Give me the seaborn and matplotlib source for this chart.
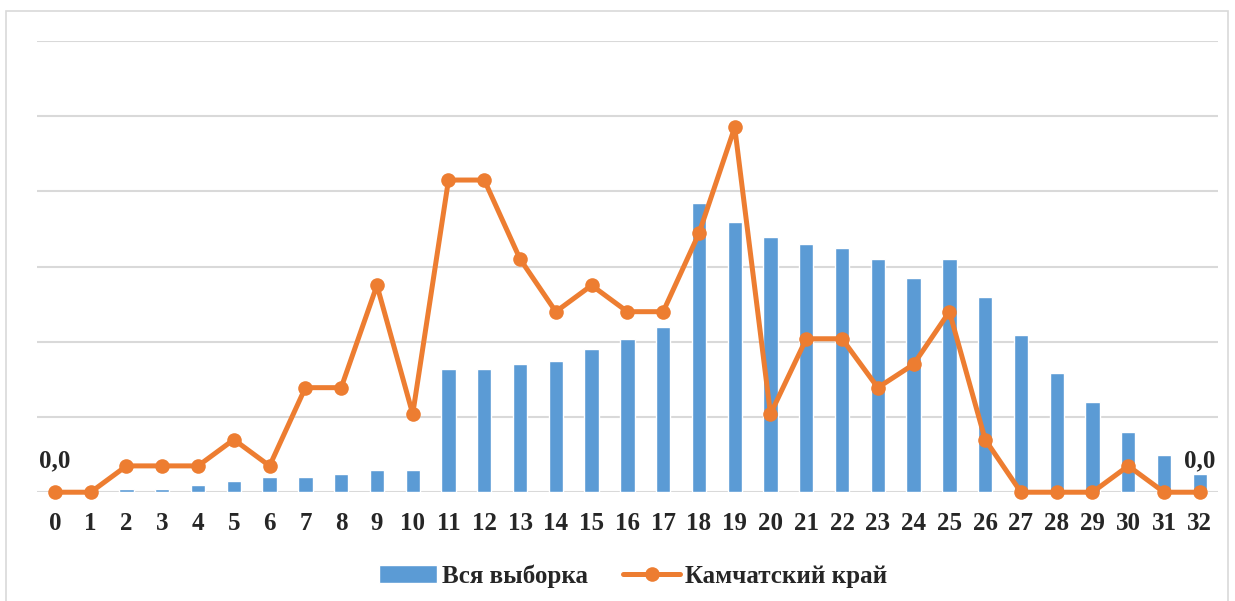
import numpy as np
import pandas as pd
import seaborn as sns
import matplotlib.pyplot as plt
from matplotlib.patches import Rectangle

# values (one grid step = 1 unit)
scores = list(range(33))
all_sample = [0, 0, 0.045, 0.045, 0.094, 0.148, 0.197, 0.197, 0.247, 0.30, 0.30,
              1.64, 1.64, 1.70, 1.75, 1.90, 2.04, 2.20, 3.84, 3.59, 3.39, 3.30,
              3.24, 3.10, 2.85, 3.10, 2.59, 2.09, 1.59, 1.20, 0.80, 0.49, 0.24]
kamchatka = [0, 0, 0.35, 0.35, 0.35, 0.70, 0.35, 1.39, 1.39, 2.75, 1.04,
             4.15, 4.15, 3.10, 2.40, 2.75, 2.40, 2.40, 3.44, 4.85, 1.04, 2.04,
             2.04, 1.39, 1.70, 2.40, 0.70, 0, 0, 0, 0.35, 0, 0]

df = pd.DataFrame({'score': scores, 'all': all_sample, 'kam': kamchatka})

sns.set_style('white')
plt.rcParams['font.family'] = ['Liberation Serif', 'DejaVu Serif']
plt.rcParams['font.weight'] = 'bold'

blue = '#5B9BD5'
orange = '#ED7D31'
grid = '#D9D9D9'

fig = plt.figure(figsize=(12.35, 6.01), dpi=100)
ax = fig.add_axes([0.030, 0.181, 0.956, 0.751])

sns.barplot(data=df, x='score', y='all', color=blue, width=0.4,
            saturation=1, label='Вся выборка', ax=ax, zorder=2)
sns.lineplot(x=np.arange(len(scores)), y=df['kam'], color=orange, linewidth=3.6,
             marker='o', markersize=10.5, markeredgewidth=0,
             label='Камчатский край', ax=ax, zorder=3, clip_on=False)

ax.set_xlim(-0.5, 32.5)
ax.set_ylim(0, 6)
ax.set_yticks(range(7))
ax.set_yticklabels([])
ax.tick_params(axis='y', length=0)
ax.tick_params(axis='x', length=0, labelsize=18, pad=14)
ax.set_xticks(range(len(scores)))
ax.set_xticklabels([str(s) for s in scores], fontweight='bold')
ax.yaxis.grid(True, color=grid, linewidth=1.5, zorder=0)
ax.set_axisbelow(True)
for s in ax.spines.values():
    s.set_visible(False)
ax.set_xlabel('')
ax.set_ylabel('')

# data labels at the ends of the line
for i in [0, len(scores) - 1]:
    ax.annotate(f"{kamchatka[i]:.1f}".replace('.', ','), (i, kamchatka[i]),
                xytext=(0, 14), textcoords='offset points', ha='center',
                va='bottom', fontsize=18, fontweight='bold')

h, l = ax.get_legend_handles_labels()
ax.legend_.remove()
order = [l.index('Вся выборка'), l.index('Камчатский край')]
fig.legend([h[k] for k in order], [l[k] for k in order], loc='center',
           bbox_to_anchor=(0.513, 0.042), ncol=2, frameon=False,
           fontsize=18, handlelength=2.3, columnspacing=1.4,
           handletextpad=0.2)

fig.patches.append(Rectangle((6 / 1235, -0.01), 1222 / 1235, 1 - 11 / 601 + 0.01,
                             transform=fig.transFigure, fill=False,
                             edgecolor=grid, linewidth=1.2))

fig.savefig('out.png', dpi=100)
